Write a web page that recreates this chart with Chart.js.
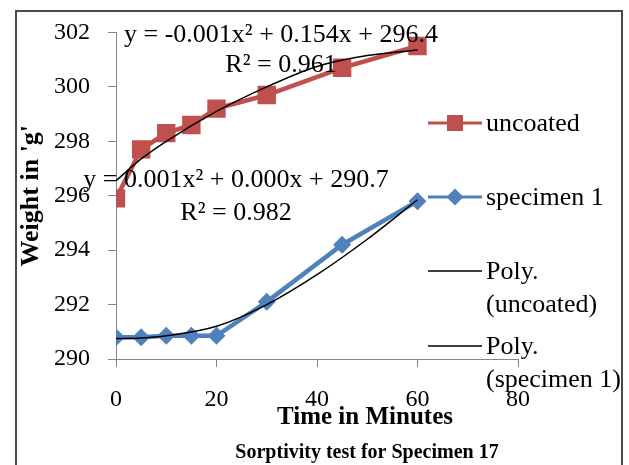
<!DOCTYPE html>
<html>
<head>
<meta charset="utf-8">
<script src="https://cdn.jsdelivr.net/npm/chart.js@4/dist/chart.umd.min.js"></script>
<style>
  html, body { margin: 0; padding: 0; background: #fff; }
  canvas { display: block; }
</style>
</head>
<body>
<canvas id="sorptivityChart" width="629" height="465"></canvas>
<script>
// measured values (minutes / grams)
const times = [0, 5, 10, 15, 20, 30, 45, 60];
const uncoated = [295.9, 297.7, 298.3, 298.6, 299.2, 299.7, 300.7, 301.5];
const specimen1 = [290.8, 290.8, 290.85, 290.85, 290.85, 292.1, 294.2, 295.8];

// trendlines
const trendTimes = [0, 5, 10, 20, 30, 40, 50, 60];
const trendUncoated = [296.55, 297.35, 298.0, 299.1, 300.0, 300.75, 301.15, 301.35];
const trendSpecimen = [290.75, 290.77, 290.85, 291.2, 292.0, 293.1, 294.4, 295.85];

const xTicks = [0, 20, 40, 60, 80];
const yTicks = [290, 292, 294, 296, 298, 300, 302];

const equations = [
    ["y = -0.001x\u00b2 + 0.154x + 296.4", "R\u00b2 = 0.961"],
    ["y = 0.001x\u00b2 + 0.000x + 290.7", "R\u00b2 = 0.982"]
];

const SERIF = "'Liberation Serif', 'Times New Roman', serif";
const RED = '#C0504D';
const BLUE = '#4F81BD';
const AXIS = '#868686';

function toPoints(xs, ys) {
    return xs.map((x, i) => ({ x: x, y: ys[i] }));
}

function drawMarker(ctx, style, x, y, r, color) {
    ctx.save();
    ctx.fillStyle = color;
    ctx.beginPath();
    if (style === 'rect') {
        ctx.rect(x - r, y - r, r * 2, r * 2);
    } else {
        ctx.moveTo(x, y - r);
        ctx.lineTo(x + r, y);
        ctx.lineTo(x, y + r);
        ctx.lineTo(x - r, y);
        ctx.closePath();
    }
    ctx.fill();
    ctx.restore();
}

const decor = {
    id: 'decor',
    beforeDraw(chart) {
        const ctx = chart.ctx;
        ctx.save();
        ctx.fillStyle = '#fff';
        ctx.fillRect(0, 0, chart.width, chart.height);
        ctx.restore();
    },
    afterDatasetsDraw(chart) {
        const ctx = chart.ctx;
        ctx.save();
        ctx.fillStyle = '#000';
        ctx.textAlign = 'center';
        ctx.textBaseline = 'alphabetic';
        ctx.font = '26px ' + SERIF;
        // trendline labels
        ctx.fillText(equations[0][0], 281, 42);
        ctx.fillText(equations[0][1], 281, 72);
        ctx.fillText(equations[1][0], 236, 187);
        ctx.fillText(equations[1][1], 236, 220);
        ctx.restore();
    },
    afterDraw(chart) {
        const ctx = chart.ctx;
        const ds = chart.data.datasets;
        ctx.save();

        // outer frame
        ctx.strokeStyle = '#4a4a4a';
        ctx.lineWidth = 2;
        ctx.strokeRect(16, 11, 606, 520);

        // axis title and chart title
        ctx.fillStyle = '#000';
        ctx.textAlign = 'center';
        ctx.font = 'bold 25px ' + SERIF;
        ctx.fillText('Time in Minutes', 365, 424);
        ctx.font = 'bold 20px ' + SERIF;
        ctx.fillText('Sorptivity test for Specimen 17', 367, 458);

        // legend
        const items = [
            { ds: ds[2], y: 123 },
            { ds: ds[3], y: 197 },
            { ds: ds[0], y: 271 },
            { ds: ds[1], y: 346 }
        ];
        ctx.font = '26px ' + SERIF;
        ctx.textAlign = 'left';
        items.forEach(item => {
            const d = item.ds;
            ctx.strokeStyle = d.borderColor;
            ctx.lineWidth = d.pointRadius ? 3 : 1.5;
            ctx.beginPath();
            ctx.moveTo(428, item.y);
            ctx.lineTo(482, item.y);
            ctx.stroke();
            if (d.pointRadius) {
                drawMarker(ctx, d.pointStyle, 455, item.y, d.pointStyle === 'rect' ? 8 : 8.5, d.backgroundColor);
            }
            const sp = d.label.indexOf(' ');
            const lines = d.label.startsWith('Poly.') ? [d.label.slice(0, sp), d.label.slice(sp + 1)] : [d.label];
            ctx.fillStyle = '#000';
            lines.forEach((t, k) => ctx.fillText(t, 486, item.y + 8 + k * 33));
        });
        ctx.restore();
    }
};

const ctx = document.getElementById('sorptivityChart');

new Chart(ctx, {
    type: 'line',
    data: {
        datasets: [
            {
                label: 'Poly. (uncoated)',
                data: toPoints(trendTimes, trendUncoated),
                borderColor: '#000',
                borderWidth: 1.5,
                pointRadius: 0,
                cubicInterpolationMode: 'monotone',
                order: 0
            },
            {
                label: 'Poly. (specimen 1)',
                data: toPoints(trendTimes, trendSpecimen),
                borderColor: '#000',
                borderWidth: 1.5,
                pointRadius: 0,
                cubicInterpolationMode: 'monotone',
                order: 0
            },
            {
                label: 'uncoated',
                data: toPoints(times, uncoated),
                borderColor: RED,
                backgroundColor: RED,
                borderWidth: 4.5,
                pointStyle: 'rect',
                pointRadius: 13,
                pointBorderWidth: 0,
                tension: 0,
                order: 1
            },
            {
                label: 'specimen 1',
                data: toPoints(times, specimen1),
                borderColor: BLUE,
                backgroundColor: BLUE,
                borderWidth: 4.5,
                pointStyle: 'rectRot',
                pointRadius: 9,
                pointBorderWidth: 0,
                tension: 0,
                order: 1
            }
        ]
    },
    options: {
        responsive: false,
        animation: false,
        layout: { padding: { left: 16, top: 28, right: 111, bottom: 0 } },
        plugins: {
            legend: { display: false },
            tooltip: { enabled: false },
            title: { display: false }
        },
        scales: {
            x: {
                type: 'linear',
                min: xTicks[0],
                max: xTicks[xTicks.length - 1],
                afterBuildTicks: s => { s.ticks = xTicks.map(v => ({ value: v })); },
                ticks: { padding: 18, color: '#000', font: { family: SERIF, size: 24 }, maxRotation: 0 },
                grid: { drawOnChartArea: false, tickLength: 8, color: AXIS },
                border: { color: AXIS, width: 1 },
                afterFit: s => { s.height = 106; }
            },
            y: {
                min: yTicks[0],
                max: yTicks[yTicks.length - 1],
                afterBuildTicks: s => { s.ticks = yTicks.map(v => ({ value: v })); },
                ticks: { padding: 18, color: '#000', font: { family: SERIF, size: 24 } },
                grid: { drawOnChartArea: false, tickLength: 8, color: AXIS },
                border: { color: AXIS, width: 1 },
                title: {
                    display: true,
                    text: "Weight in 'g'",
                    color: '#000',
                    font: { family: SERIF, size: 26, weight: 'bold' },
                    padding: { top: 0, bottom: 0 }
                },
                afterFit: s => { s.width = 100; }
            }
        }
    },
    plugins: [decor]
});
</script>
</body>
</html>
